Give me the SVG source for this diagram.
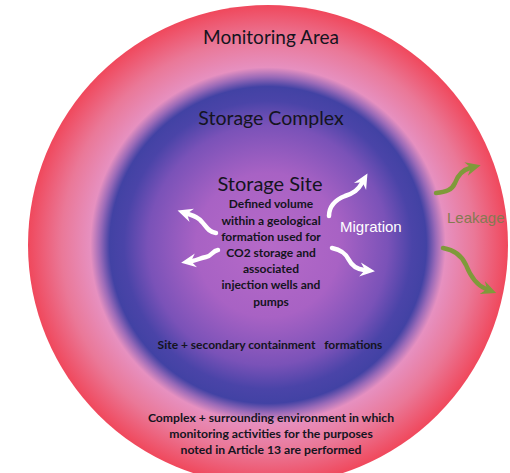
<svg xmlns="http://www.w3.org/2000/svg" width="510" height="473" viewBox="0 0 510 473">
  <defs>
    <radialGradient id="rings" gradientUnits="userSpaceOnUse" cx="268" cy="245" r="240">
      <stop offset="0" stop-color="#b66ac8"/>
      <stop offset="0.3" stop-color="#a862c4"/>
      <stop offset="0.5" stop-color="#7a52b8"/>
      <stop offset="0.6" stop-color="#4a44a8"/>
      <stop offset="0.66" stop-color="#4242a4"/>
      <stop offset="0.7" stop-color="#9a6ab8"/>
      <stop offset="0.74" stop-color="#e690c0"/>
      <stop offset="0.86" stop-color="#ea7898"/>
      <stop offset="1" stop-color="#f0485c"/>
    </radialGradient>
    <marker id="headW" markerUnits="userSpaceOnUse" markerWidth="16" markerHeight="16" refX="4" refY="8" orient="auto">
      <path d="M0,1 L15,8 L0,15 L5,8 Z" fill="#ffffff"/>
    </marker>
    <marker id="headG" markerUnits="userSpaceOnUse" markerWidth="16" markerHeight="16" refX="4" refY="8" orient="auto">
      <path d="M0,1 L15,8 L0,15 L5,8 Z" fill="#7f9a3a"/>
    </marker>
  </defs>
  <style>
    .h { font-family: Lato, "Liberation Sans", sans-serif; fill: #141420; text-anchor: middle; }
    .b { font-family: Lato, "Liberation Sans", sans-serif; font-weight: 700; fill: #141420; text-anchor: middle; }
    .w { fill: none; stroke: #ffffff; stroke-width: 4.5; stroke-linecap: round; marker-end: url(#headW); }
    .g { fill: none; stroke: #7f9a3a; stroke-width: 4.5; stroke-linecap: round; marker-end: url(#headG); }
  </style>
  <rect width="510" height="473" fill="#ffffff"/>
  <g id="monitoring-area">
    <circle cx="268" cy="245" r="240" fill="url(#rings)"/>
    <text class="h" x="271" y="44" font-size="19">Monitoring Area</text>
    <text class="b" x="271" y="422" font-size="12.2">Complex + surrounding environment in which</text>
    <text class="b" x="271" y="438" font-size="12.2">monitoring activities for the purposes</text>
    <text class="b" x="271" y="454" font-size="12.2">noted in Article 13 are performed</text>
  </g>
  <g id="storage-complex">
    <text class="h" x="271" y="125" font-size="19.5">Storage Complex</text>
    <text class="b" x="270" y="349" font-size="12" xml:space="preserve">Site + secondary containment   formations</text>
  </g>
  <g id="storage-site">
    <text class="h" x="270" y="191" font-size="20">Storage Site</text>
    <text class="b" x="271" y="208" font-size="12">Defined volume</text>
    <text class="b" x="271" y="225" font-size="12">within a geological</text>
    <text class="b" x="271" y="241" font-size="12">formation used for</text>
    <text class="b" x="271" y="257" font-size="12">CO2 storage and</text>
    <text class="b" x="271" y="273" font-size="12">associated</text>
    <text class="b" x="271" y="289" font-size="12">injection wells and</text>
    <text class="b" x="271" y="306" font-size="12">pumps</text>
  </g>
  <g id="connectors">
    <path class="w" d="M216,233 C208,232 206,226 202,222 C198,217 194,216 188,214"/>
    <path class="w" d="M218,250 C212,251 212,256 206,257 C200,258 198,260 192,261"/>
    <path class="w" d="M329,216 C329,206 335,200 345,196 C354,193 358,190 362,183"/>
    <path class="w" d="M332,248 C342,250 346,254 349,260 C352,266 356,269 364,270"/>
    <path class="g" d="M436,193 C446,192 452,190 455,183 C458,175 462,170 470,168"/>
    <path class="g" d="M443,248 C455,250 462,256 466,265 C470,275 476,285 486,289"/>
  </g>
  <g id="labels">
    <text x="340" y="232" font-family="Liberation Sans, Arial, sans-serif" font-size="15" fill="#ffffff">Migration</text>
    <text x="447" y="223" font-family="Liberation Sans, Arial, sans-serif" font-size="15" fill="#857a52">Leakage</text>
  </g>
</svg>
